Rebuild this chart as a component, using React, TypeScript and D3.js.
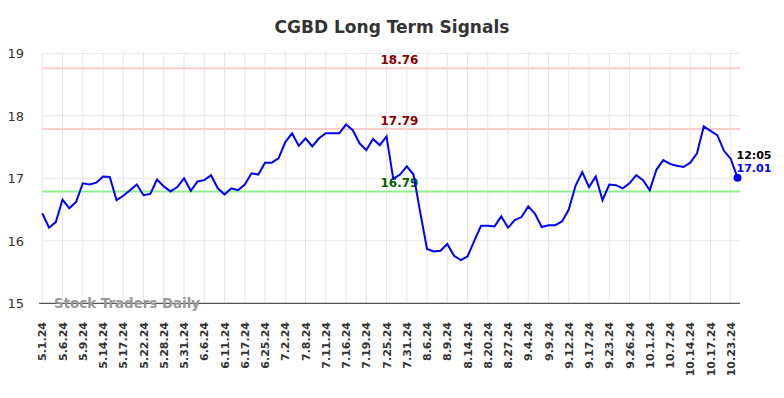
import React, {useRef, useEffect} from "react";
import * as d3 from "d3";

// closing values, one per trading day, 5.1.24 .. 10.24.24
const values = [
  16.44, 16.21, 16.3, 16.66, 16.52, 16.62, 16.92, 16.9, 16.93, 17.03,
  17.02, 16.65, 16.72, 16.81, 16.9, 16.73, 16.75, 16.98, 16.87, 16.79,
  16.86, 17.0, 16.8, 16.95, 16.97, 17.05, 16.84, 16.74, 16.84, 16.81,
  16.9, 17.08, 17.06, 17.25, 17.25, 17.32, 17.58, 17.72, 17.52, 17.64,
  17.51, 17.64, 17.72, 17.72, 17.72, 17.86, 17.77, 17.56, 17.45, 17.63,
  17.53, 17.67, 16.99, 17.06, 17.19, 17.06, 16.45, 15.87, 15.83, 15.84,
  15.95, 15.76, 15.69, 15.75, 16.0, 16.24, 16.24, 16.23, 16.39, 16.21,
  16.33, 16.38, 16.55, 16.43, 16.22, 16.25, 16.25, 16.31, 16.5, 16.88,
  17.1, 16.86, 17.03, 16.65, 16.9, 16.89, 16.84, 16.92, 17.05, 16.97,
  16.81, 17.14, 17.29, 17.23, 17.2, 17.18, 17.25, 17.4, 17.83, 17.76,
  17.69, 17.44, 17.31, 17.01,
];

// one label every third trading day
const tickLabels = [
  "5.1.24", "5.6.24", "5.9.24", "5.14.24", "5.17.24", "5.22.24", "5.28.24",
  "5.31.24", "6.6.24", "6.11.24", "6.17.24", "6.25.24", "7.2.24", "7.8.24",
  "7.11.24", "7.16.24", "7.19.24", "7.25.24", "7.31.24", "8.6.24", "8.9.24",
  "8.14.24", "8.20.24", "8.27.24", "9.4.24", "9.9.24", "9.12.24", "9.17.24",
  "9.23.24", "9.26.24", "10.1.24", "10.7.24", "10.14.24", "10.17.24",
  "10.23.24",
];

const yTicks = [15, 16, 17, 18, 19];

const signals = [
  {value: 18.76, kind: "resistance"},
  {value: 17.79, kind: "resistance"},
  {value: 16.79, kind: "support"},
];

const lastTime = "12:05";

const font = "DejaVu Sans, sans-serif";

export default function App() {
  const svgRef = useRef<SVGSVGElement>(null);

  useEffect(() => {
    const svg = d3.select(svgRef.current);
    svg.selectAll("*").remove();

    const left = 42.3;
    const right = 740;
    const top = 53.3;
    const bottom = 303.3;

    const x = d3.scaleLinear().domain([0, values.length - 1]).range([left, 737.5]);
    const y = d3.scaleLinear().domain([15, 19]).range([bottom, top]);

    // title
    svg
      .append("text")
      .attr("x", 392)
      .attr("y", 33)
      .attr("text-anchor", "middle")
      .style("font-family", font)
      .style("font-size", "17px")
      .style("font-weight", "bold")
      .style("fill", "#333")
      .text("CGBD Long Term Signals");

    // grid
    svg
      .selectAll(".grid-y")
      .data(yTicks)
      .join("line")
      .attr("class", "grid-y")
      .attr("x1", left)
      .attr("x2", right)
      .attr("y1", (d) => y(d))
      .attr("y2", (d) => y(d))
      .attr("stroke", "#e6e6e6")
      .attr("stroke-width", 1);

    svg
      .selectAll(".grid-x")
      .data(tickLabels)
      .join("line")
      .attr("class", "grid-x")
      .attr("x1", (d, i) => x(i * 3))
      .attr("x2", (d, i) => x(i * 3))
      .attr("y1", top)
      .attr("y2", bottom)
      .attr("stroke", "#e6e6e6")
      .attr("stroke-width", 1);

    // y labels
    svg
      .selectAll(".y-label")
      .data(yTicks)
      .join("text")
      .attr("class", "y-label")
      .attr("x", 24)
      .attr("y", (d) => y(d) + 5)
      .attr("text-anchor", "end")
      .style("font-family", font)
      .style("font-size", "13px")
      .style("fill", "#333")
      .text((d) => d);

    // x labels
    svg
      .selectAll(".x-label")
      .data(tickLabels)
      .join("text")
      .attr("class", "x-label")
      .attr("transform", (d, i) => `translate(${x(i * 3) + 4},${322}) rotate(-90)`)
      .attr("text-anchor", "end")
      .style("font-family", font)
      .style("font-size", "11px")
      .style("font-weight", "bold")
      .style("fill", "#333")
      .text((d) => d);

    // signal lines
    svg
      .selectAll(".signal")
      .data(signals)
      .join("line")
      .attr("class", "signal")
      .attr("x1", left)
      .attr("x2", right)
      .attr("y1", (d) => y(d.value))
      .attr("y2", (d) => y(d.value))
      .attr("stroke", (d) => (d.kind === "support" ? "#90ee90" : "#ffcccc"))
      .attr("stroke-width", 2);

    svg
      .selectAll(".signal-label")
      .data(signals)
      .join("text")
      .attr("class", "signal-label")
      .attr("x", 399.5)
      .attr("y", (d) => y(d.value) - 4)
      .attr("text-anchor", "middle")
      .style("font-family", font)
      .style("font-size", "12px")
      .style("font-weight", "bold")
      .style("fill", (d) => (d.kind === "support" ? "#006400" : "#8b0000"))
      .text((d) => d.value.toFixed(2));

    // bottom axis line
    svg
      .append("line")
      .attr("x1", 39)
      .attr("x2", right)
      .attr("y1", bottom)
      .attr("y2", bottom)
      .attr("stroke", "#555")
      .attr("stroke-width", 1.2);

    // watermark
    svg
      .append("text")
      .attr("x", 54)
      .attr("y", 308)
      .style("font-family", font)
      .style("font-size", "13.4px")
      .style("font-weight", "bold")
      .style("fill", "#999")
      .text("Stock Traders Daily");

    // price line
    const line = d3
      .line<number>()
      .x((d, i) => x(i))
      .y((d) => y(d));

    svg
      .append("path")
      .datum(values)
      .attr("d", line)
      .attr("fill", "none")
      .attr("stroke", "#0000ff")
      .attr("stroke-width", 2);

    const lastIdx = values.length - 1;
    const last = values[lastIdx];

    svg
      .append("circle")
      .attr("cx", x(lastIdx))
      .attr("cy", y(last))
      .attr("r", 4)
      .attr("fill", "#0000ff");

    svg
      .append("text")
      .attr("x", x(lastIdx) - 1)
      .attr("y", y(last) - 19)
      .style("font-family", font)
      .style("font-size", "11px")
      .style("font-weight", "bold")
      .style("fill", "#000")
      .text(lastTime);

    svg
      .append("text")
      .attr("x", x(lastIdx) - 1)
      .attr("y", y(last) - 6)
      .style("font-family", font)
      .style("font-size", "11px")
      .style("font-weight", "bold")
      .style("fill", "#0000ff")
      .text(last.toFixed(2));

    return () => {
      d3.select(svgRef.current).selectAll("*").remove();
    };
  }, []);

  return (
    <svg
      ref={svgRef}
      width={784}
      height={398}
      style={{position: "absolute", left: 0, top: 0, background: "#fff"}}
    />
  );
}
